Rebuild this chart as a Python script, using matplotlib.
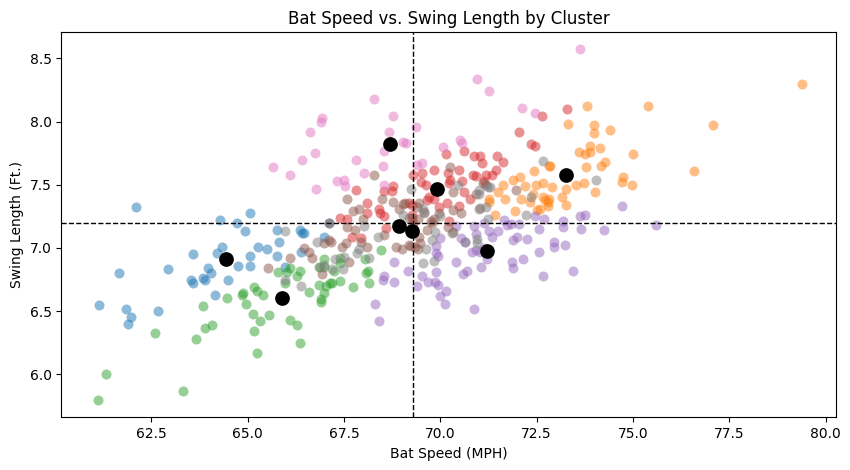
import matplotlib
matplotlib.use("Agg")
import matplotlib.pyplot as plt

# values, one pair of lists per cluster
blue_x = [62.11,64.29,64.71,65.05,64.92,65.75,66.36,66.41,66.47,65.80,64.32,64.20,63.59,65.26,65.49,65.07,65.75,66.37,66.97,67.10,64.74,65.06,63.97,64.04,62.92,61.65,63.52,63.59,63.83,63.90,64.50,65.96,64.16,61.15,61.85,61.98,61.90,62.66]
blue_y = [7.32,7.22,7.20,7.28,7.13,7.14,7.14,7.12,7.12,7.045,7.005,6.96,6.95,7.01,6.99,6.94,6.94,6.97,7.09,7.20,6.86,6.855,6.84,6.80,6.83,6.80,6.75,6.72,6.76,6.75,6.75,6.85,6.63,6.55,6.52,6.45,6.40,6.50]

orange_x = [79.38,77.07,75.38,73.80,73.31,73.98,73.98,74.40,73.88,74.14,73.59,73.75,73.88,74.99,74.27,74.16,73.77,72.84,72.81,72.42,76.58,72.06,71.88,71.62,72.19,72.48,72.66,72.89,73.25,73.51,73.72,74.74,74.71,74.97,74.01,71.67,72.09,72.32,72.40,72.66,72.81,72.71,72.79,72.79,73.15,73.25,72.58,72.50,71.93,71.49,71.26,71.26,71.41]
orange_y = [8.295,7.97,8.12,8.12,7.98,7.97,7.91,7.93,7.81,7.79,7.76,7.74,7.76,7.74,7.68,7.65,7.64,7.65,7.65,7.61,7.61,7.56,7.54,7.496,7.49,7.496,7.51,7.48,7.47,7.50,7.51,7.56,7.52,7.50,7.44,7.385,7.385,7.36,7.43,7.40,7.39,7.38,7.36,7.33,7.40,7.34,7.31,7.30,7.29,7.44,7.385,7.36,7.26]

green_x = [61.31,61.10,63.31,62.58,63.65,63.88,64.07,63.83,64.45,64.84,64.89,64.95,65.15,65.23,65.39,65.13,65.31,65.54,65.15,65.23,66.09,66.27,66.35,66.58,65.98,65.78,66.02,66.09,66.29,66.35,66.84,67.02,66.97,66.89,66.89,66.97,66.84,66.97,67.13,68.45,68.04,67.40,67.40,67.25,67.385,67.19,67.72,68.16,68.07,68.11]
green_y = [6.00,5.80,5.87,6.325,6.28,6.365,6.39,6.54,6.60,6.625,6.64,6.56,6.69,6.66,6.625,6.48,6.42,6.467,6.34,6.17,6.43,6.39,6.246,6.65,6.72,6.81,6.81,6.84,6.78,6.815,6.705,6.70,6.64,6.595,6.575,6.91,6.85,6.85,6.72,6.98,6.91,6.92,6.88,6.82,6.74,6.72,6.69,6.72,6.80,6.815]

red_x = [73.28,72.63,72.03,72.35,72.45,71.62,70.61,70.16,69.83,70.48,69.515,70.19,69.28,70.24,70.88,71.02,71.46,71.07,71.44,70.84,70.92,71.18,71.33,71.13,69.49,69.62,70.22,70.55,68.76,67.80,68.55,68.74,69.70,69.83,69.96,70.17,70.48,70.61,70.76,69.65,69.27,69.18,69.27,68.10,68.10,68.40,68.44,68.53,67.385,67.59,67.71,67.95,68.59,70.22,69.29]
red_y = [8.10,8.04,7.915,7.82,7.81,7.68,7.765,7.74,7.62,7.62,7.59,7.59,7.58,7.54,7.725,7.73,7.725,7.67,7.62,7.58,7.57,7.575,7.58,7.53,7.52,7.495,7.51,7.53,7.49,7.456,7.45,7.45,7.406,7.39,7.327,7.353,7.33,7.44,7.385,7.38,7.34,7.353,7.26,7.358,7.28,7.31,7.28,7.25,7.24,7.226,7.084,7.076,7.155,7.216,7.195]

purple_x = [70.41,70.0,69.90,69.93,69.90,68.80,69.15,69.52,68.50,68.53,68.81,68.30,68.42,69.39,69.67,69.85,69.93,69.90,70.16,69.98,70.11,70.40,70.68,70.58,71.05,70.87,70.53,70.63,70.87,70.92,71.13,71.26,71.33,71.49,71.65,71.72,71.83,72.04,71.98,71.88,72.24,70.81,70.92,71.02,71.13,71.2,71.85,72.14,71.88,72.46,72.68,73.18,73.18,72.55,73.64,73.62,73.75,74.24,74.71,75.59,72.94,72.94,73.23,72.55,73.44,72.66]
purple_y = [7.17,7.076,7.015,6.936,6.96,6.886,6.82,6.78,6.75,6.78,6.73,6.56,6.425,6.70,6.73,6.73,6.71,6.807,6.66,6.617,6.554,6.886,6.82,6.79,6.847,6.52,7.08,7.05,7.17,7.11,7.195,7.13,7.09,7.13,7.22,7.18,7.19,7.19,7.09,7.06,7.07,6.97,6.98,6.97,7.0,6.91,6.89,6.91,6.84,7.25,7.23,7.21,7.164,7.15,7.15,7.25,7.26,7.14,7.33,7.18,7.05,7.01,7.02,6.97,6.82,6.78]

brown_x = [65.52,66.11,66.45,66.58,66.67,66.92,66.97,67.10,67.12,68.27,70.26,67.58,68.48,68.76,69.02,68.92,67.72,67.88,67.98,67.58,67.78,67.56,67.46,67.93,68.10,67.62,67.17,68.55,68.84,68.995,69.18,69.33,69.41,69.46,69.44,69.23,69.65,69.75,69.83,69.96,70.32,70.53,70.19,70.32,71.02,69.44,69.18,69.26,69.41,70.32,70.92,71.10,71.18,71.96,69.57,69.39,69.78,69.07]
brown_y = [6.84,6.92,7.0,6.97,6.92,6.79,7.04,7.06,7.20,7.58,7.64,7.39,7.385,7.36,7.345,7.305,7.29,7.31,7.226,7.163,7.14,7.036,7.005,7.05,7.005,6.886,7.05,7.10,7.005,6.99,7.02,7.005,6.99,7.036,7.084,7.013,7.14,7.21,7.226,7.274,7.30,7.28,7.163,7.124,7.313,7.353,7.234,7.234,7.226,7.44,7.424,7.51,7.495,7.456,7.287,7.327,7.195,7.353]

pink_x = [73.62,72.11,72.45,70.94,71.26,68.29,68.76,66.92,66.89,66.61,68.68,69.36,69.02,69.12,68.53,66.74,66.42,67.80,68.50,65.645,66.11,68.01,67.33,67.49,67.515,66.76,68.55,69.385,69.515,70.06,70.50,70.55]
pink_y = [8.57,8.11,8.07,8.34,8.24,8.18,8.04,8.03,8.00,7.915,7.915,7.955,7.84,7.83,7.765,7.75,7.695,7.695,7.65,7.64,7.58,7.59,7.53,7.54,7.49,7.465,7.50,7.66,7.67,7.80,7.85,7.83]

gray_x = [72.66,74.04,72.35,72.22,70.45,69.23,71.23,71.01,65.96,66.79,65.96,66.37,66.97,66.88,67.19,71.0,71.28,69.02,69.54,69.57,70.0,68.01,68.37,69.78,69.85,70.30,70.63,70.94,70.94,67.88,67.83,68.14,67.255,67.49,67.47,69.64,69.54,69.83,71.0,71.19,71.23]
gray_y = [7.69,7.536,7.40,7.26,7.50,7.47,7.485,7.46,7.13,7.05,6.75,6.70,6.865,6.85,6.83,7.43,7.48,7.26,7.305,7.28,7.25,7.17,7.09,7.06,7.124,7.116,7.05,7.07,7.037,6.99,6.957,6.918,6.91,6.926,6.83,6.99,6.88,6.90,7.31,7.32,7.226]

centers_x = [64.44, 73.25, 65.90, 69.92, 71.22, 68.94, 68.70, 69.27]
centers_y = [6.91, 7.58, 6.60, 7.47, 6.975, 7.17, 7.82, 7.13]

avg_speed = 69.3
avg_length = 7.2

clusters = [(blue_x, blue_y), (orange_x, orange_y), (green_x, green_y), (red_x, red_y),
            (purple_x, purple_y), (brown_x, brown_y), (pink_x, pink_y), (gray_x, gray_y)]

fig = plt.figure(figsize=(8.5, 4.7), dpi=100)
ax = fig.add_axes([61.3/850, 1 - 417.3/470, 775/850, 385/470])

for i, (x, y) in enumerate(clusters):
    ax.scatter(x, y, color="C%d" % i, alpha=0.5, s=52, linewidths=0)
ax.scatter(centers_x, centers_y, color="black", s=112, linewidths=0, zorder=3)
ax.axvline(avg_speed, color="black", linestyle="--", linewidth=1)
ax.axhline(avg_length, color="black", linestyle="--", linewidth=1)

ax.set_xlim(60.16, 80.28)
ax.set_ylim(5.66, 8.706)
ax.set_xlabel("Bat Speed (MPH)")
ax.set_ylabel("Swing Length (Ft.)")
ax.set_title("Bat Speed vs. Swing Length by Cluster")

fig.savefig("out.png", dpi=100)
